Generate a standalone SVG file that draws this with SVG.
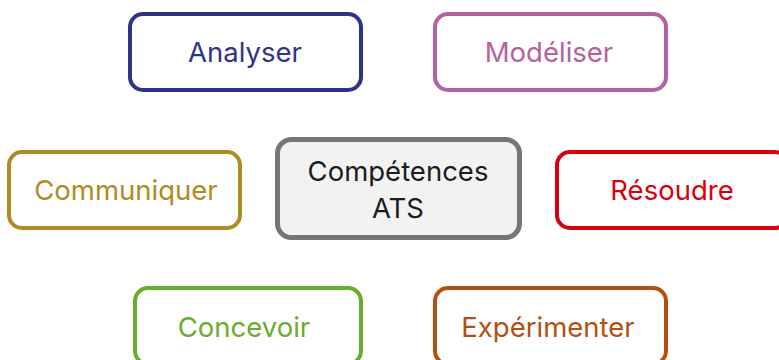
<svg xmlns="http://www.w3.org/2000/svg" width="779" height="360" viewBox="0 0 779 360">
  <style>
    .box { fill: #ffffff; stroke-width: 4; }
    .lbl { font-family: Inter, "Liberation Sans", sans-serif; font-size: 27.5px; text-anchor: middle; }
    .centre { fill: #f2f2f2; stroke: #767676; stroke-width: 5; }
    .centre-lbl { font-family: Inter, "Liberation Sans", sans-serif; font-size: 27.5px; text-anchor: middle; fill: #1c1c1c; }
  </style>
  <rect width="779" height="360" fill="#ffffff"/>

  <g id="connectors"></g>

  <g id="analyser">
    <rect class="box" x="130" y="14" width="231" height="76" rx="13" stroke="#2f3486"/>
    <text class="lbl" x="245" y="62" fill="#2f3486">Analyser</text>
  </g>

  <g id="modeliser">
    <rect class="box" x="435" y="14" width="231" height="76" rx="13" stroke="#b5619d"/>
    <text class="lbl" x="549" y="62" fill="#b5619d">Modéliser</text>
  </g>

  <g id="communiquer">
    <rect class="box" x="9" y="152" width="231" height="76" rx="13" stroke="#b08a22"/>
    <text class="lbl" x="126" y="200" fill="#b08a22">Communiquer</text>
  </g>

  <g id="competences">
    <rect class="centre" x="277.5" y="139.5" width="242" height="98" rx="14"/>
    <text class="centre-lbl" x="398" y="181">Compétences</text>
    <text class="centre-lbl" x="398" y="218">ATS</text>
  </g>

  <g id="resoudre">
    <rect class="box" x="557" y="152" width="231" height="76" rx="13" stroke="#d9000c"/>
    <text class="lbl" x="672" y="200" fill="#d9000c">Résoudre</text>
  </g>

  <g id="concevoir">
    <rect class="box" x="135" y="288" width="226" height="76" rx="13" stroke="#68ad2d"/>
    <text class="lbl" x="244" y="337" fill="#68ad2d">Concevoir</text>
  </g>

  <g id="experimenter">
    <rect class="box" x="435" y="288" width="231" height="76" rx="13" stroke="#b3500f"/>
    <text class="lbl" x="548" y="337" fill="#b3500f">Expérimenter</text>
  </g>
</svg>
